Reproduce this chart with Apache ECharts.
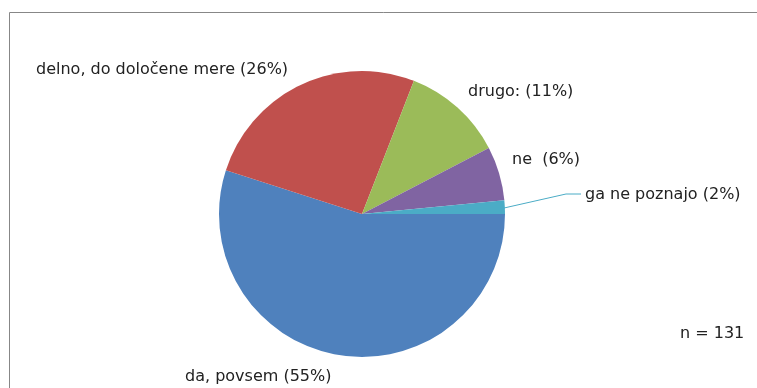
<!DOCTYPE html>
<html>
<head>
<meta charset="utf-8">
<script src="https://cdn.jsdelivr.net/npm/echarts@6/dist/echarts.min.js"></script>
<style>
  html, body { margin: 0; padding: 0; background: #fff; }
  #chart { width: 757px; height: 388px; }
</style>
</head>
<body>
<div id="chart"></div>
<script>
// odgovori (n = 131)
const categories = ['da, povsem', 'delno, do določene mere', 'drugo:', 'ne ', 'ga ne poznajo'];
const counts = [72, 34, 15, 8, 2];
const colors = ['#4F81BD', '#C0504D', '#9BBB59', '#8064A2', '#4BACC6'];
const total = 131;

const chart = echarts.init(document.getElementById('chart'));

// kje stojijo oznake (levi rob, sredina po višini)
const labelPos = [
  { x: 185, y: 377 },
  { x: 36, y: 70 },
  { x: 468, y: 92 },
  { x: 512, y: 160 },
  { x: 585, y: 195 }
];

chart.setOption({
  animation: false,
  graphic: [
    {
      type: 'rect',
      shape: { x: 9.5, y: 12.5, width: 800, height: 420 },
      style: { fill: 'none', stroke: '#878787', lineWidth: 1 }
    },
    {
      type: 'text',
      left: 680,
      top: 326,
      style: { text: 'n = ' + total, fill: '#222', font: '16px "DejaVu Sans"' }
    }
  ],
  series: [{
    type: 'pie',
    center: [362, 214],
    radius: 143,
    startAngle: 0,
    clockwise: true,
    avoidLabelOverlap: false,
    itemStyle: { borderWidth: 0 },
    label: {
      show: true,
      position: 'outside',
      color: '#222',
      fontFamily: 'DejaVu Sans',
      fontSize: 16,
      formatter: p => p.name + ' (' + Math.round(p.percent) + '%)'
    },
    labelLine: { show: false },
    labelLayout: function (params) {
      const pos = labelPos[params.dataIndex];
      const out = { x: pos.x, y: pos.y, align: 'left', verticalAlign: 'middle' };
      if (params.dataIndex === 4) {
        out.labelLinePoints = [[504, 208], [566, 194], [581, 194]];
      }
      return out;
    },
    data: categories.map((c, i) => ({
      name: c,
      value: counts[i],
      itemStyle: { color: colors[i] },
      labelLine: i === 4 ? { show: true, lineStyle: { color: colors[i], width: 1 } } : { show: false }
    }))
  }]
});
</script>
</body>
</html>
